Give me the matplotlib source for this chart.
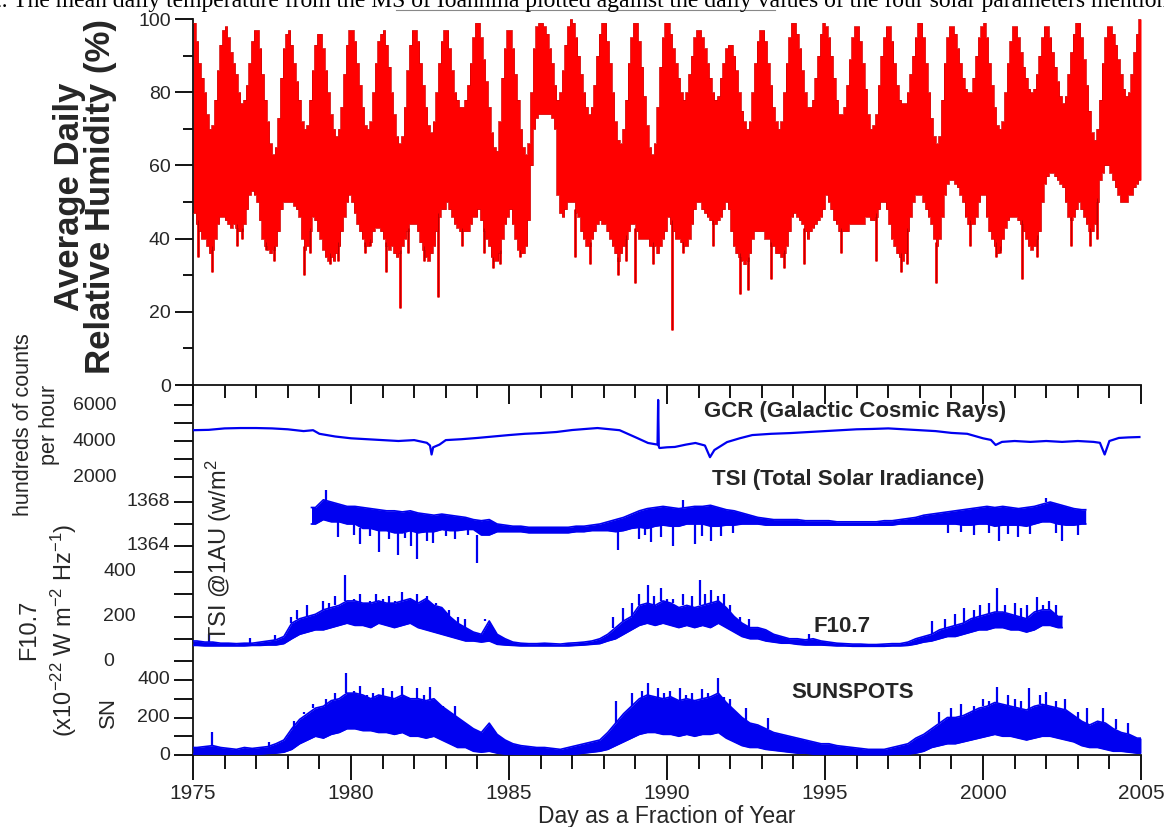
import numpy as np
import matplotlib.pyplot as plt
from matplotlib.ticker import MultipleLocator, FixedLocator, NullFormatter
from matplotlib.transforms import blended_transform_factory

plt.rcParams['font.family'] = ['Liberation Sans', 'DejaVu Sans']
plt.rcParams['mathtext.fontset'] = 'custom'
plt.rcParams['mathtext.rm'] = 'Liberation Sans'
plt.rcParams['mathtext.it'] = 'Liberation Sans:italic'
plt.rcParams['mathtext.bf'] = 'Liberation Sans:bold'

# ---------------------------------------------------------------- data
FIRST_YEAR = 1975

# Monthly upper / lower envelope of the daily relative humidity (%), Jan..Dec
rh_high = [
    [99, 94, 88, 84, 80, 74, 70, 71, 78, 86, 93, 97],   # 1975
    [98, 95, 91, 88, 85, 80, 77, 78, 82, 88, 94, 97],   # 1976
    [97, 92, 85, 78, 72, 66, 63, 65, 73, 84, 92, 96],   # 1977
    [97, 93, 88, 83, 78, 72, 70, 71, 78, 86, 93, 96],   # 1978
    [96, 92, 86, 80, 74, 70, 68, 70, 76, 85, 93, 97],   # 1979
    [97, 94, 88, 82, 76, 71, 70, 72, 80, 88, 94, 96],   # 1980
    [97, 93, 87, 80, 74, 68, 66, 68, 76, 86, 93, 97],   # 1981
    [97, 94, 88, 82, 76, 71, 69, 72, 80, 88, 94, 97],   # 1982
    [97, 92, 86, 80, 78, 76, 76, 78, 82, 88, 95, 99],   # 1983
    [99, 95, 89, 83, 76, 69, 65, 64, 72, 84, 92, 97],   # 1984
    [97, 92, 85, 78, 70, 65, 63, 66, 80, 92, 98, 99],   # 1985
    [99, 98, 96, 92, 88, 82, 78, 80, 86, 93, 98, 100],  # 1986
    [99, 95, 90, 85, 80, 76, 74, 76, 82, 90, 96, 99],   # 1987
    [99, 94, 88, 80, 72, 67, 66, 70, 78, 88, 95, 99],   # 1988
    [99, 94, 87, 79, 71, 65, 63, 66, 76, 87, 95, 99],   # 1989
    [99, 96, 92, 88, 84, 80, 78, 80, 85, 90, 95, 97],   # 1990
    [97, 95, 92, 88, 84, 80, 78, 79, 84, 88, 92, 93],   # 1991
    [93, 90, 86, 80, 75, 72, 70, 72, 80, 88, 94, 97],   # 1992
    [97, 94, 88, 82, 76, 72, 70, 72, 80, 88, 95, 99],   # 1993
    [99, 96, 92, 86, 80, 76, 76, 78, 84, 90, 96, 99],   # 1994
    [98, 95, 90, 84, 78, 74, 74, 76, 82, 89, 95, 98],   # 1995
    [98, 94, 88, 81, 74, 70, 71, 74, 82, 90, 95, 98],   # 1996
    [98, 94, 88, 82, 78, 77, 77, 80, 85, 90, 95, 99],   # 1997
    [99, 95, 88, 80, 73, 68, 66, 68, 78, 88, 95, 98],   # 1998
    [98, 96, 92, 88, 84, 81, 80, 80, 84, 90, 95, 98],   # 1999
    [99, 95, 88, 82, 76, 71, 70, 72, 80, 88, 94, 98],   # 2000
    [98, 95, 91, 87, 84, 81, 80, 81, 85, 90, 95, 98],   # 2001
    [98, 95, 91, 87, 83, 79, 77, 79, 85, 91, 96, 99],   # 2002
    [99, 95, 89, 82, 75, 69, 67, 70, 78, 88, 95, 98],   # 2003
    [98, 96, 93, 89, 85, 81, 79, 80, 85, 91, 96, 100],  # 2004
]
rh_low = [
    [47, 44, 42, 40, 40, 38, 36, 37, 40, 44, 46, 46],   # 1975
    [45, 44, 43, 44, 43, 42, 42, 44, 48, 52, 53, 52],   # 1976
    [50, 45, 40, 38, 37, 36, 37, 38, 42, 48, 50, 50],   # 1977
    [50, 50, 49, 48, 46, 40, 37, 38, 42, 46, 45, 42],   # 1978
    [40, 37, 35, 34, 35, 34, 36, 38, 42, 46, 50, 52],   # 1979
    [50, 47, 44, 42, 40, 38, 38, 39, 42, 43, 43, 42],   # 1980
    [40, 38, 37, 38, 36, 35, 36, 38, 40, 42, 44, 44],   # 1981
    [44, 42, 39, 37, 35, 34, 36, 38, 42, 46, 48, 48],   # 1982
    [50, 48, 46, 44, 43, 42, 42, 42, 42, 44, 46, 46],   # 1983
    [48, 45, 42, 40, 38, 35, 34, 34, 36, 40, 44, 46],   # 1984
    [48, 44, 40, 37, 36, 36, 38, 45, 60, 70, 73, 74],   # 1985
    [74, 74, 74, 74, 73, 70, 52, 47, 46, 48, 50, 50],   # 1986
    [50, 47, 46, 42, 40, 38, 38, 40, 42, 44, 45, 44],   # 1987
    [44, 42, 40, 38, 36, 34, 36, 38, 40, 42, 44, 44],   # 1988
    [42, 40, 40, 40, 40, 38, 38, 38, 36, 38, 40, 42],   # 1989
    [46, 44, 42, 40, 40, 39, 38, 38, 40, 44, 48, 50],   # 1990
    [50, 48, 47, 46, 45, 44, 44, 45, 46, 48, 50, 48],   # 1991
    [42, 38, 36, 35, 34, 33, 34, 36, 40, 42, 42, 42],   # 1992
    [42, 40, 40, 38, 38, 36, 36, 35, 36, 38, 42, 46],   # 1993
    [47, 46, 45, 44, 42, 40, 42, 43, 44, 45, 46, 48],   # 1994
    [52, 50, 48, 45, 44, 42, 42, 42, 42, 44, 44, 44],   # 1995
    [44, 44, 44, 46, 46, 45, 45, 46, 48, 50, 50, 48],   # 1996
    [44, 40, 38, 36, 35, 34, 36, 42, 46, 50, 52, 52],   # 1997
    [52, 50, 48, 46, 44, 40, 38, 40, 46, 52, 55, 56],   # 1998
    [56, 55, 54, 52, 50, 46, 44, 44, 44, 46, 50, 52],   # 1999
    [52, 46, 42, 40, 38, 36, 37, 40, 43, 45, 46, 46],   # 2000
    [46, 45, 44, 42, 40, 38, 37, 38, 40, 42, 50, 55],   # 2001
    [57, 58, 58, 57, 56, 55, 54, 50, 46, 45, 46, 48],   # 2002
    [50, 48, 46, 44, 42, 42, 44, 50, 56, 58, 60, 60],   # 2003
    [58, 56, 54, 52, 50, 50, 50, 52, 52, 54, 55, 56],   # 2004
]
# isolated very dry days
rh_dip_t = [1975.15, 1975.6, 1976.4, 1976.55, 1977.3, 1977.55, 1978.5, 1978.7,
            1979.35, 1979.6, 1980.45, 1980.6, 1981.1, 1981.55, 1981.8, 1982.3,
            1982.75, 1983.5, 1984.2, 1984.5, 1984.7, 1985.35, 1987.1, 1987.55,
            1988.45, 1988.7, 1989.0, 1989.55, 1990.15, 1990.5, 1991.45, 1992.3,
            1992.55, 1993.3, 1993.7, 1994.35, 1995.5, 1996.6, 1997.4, 1997.6,
            1998.5, 1999.6, 2000.4, 2000.55, 2001.23, 2001.7, 2002.8, 2003.4,
            2003.6]
rh_dip_v = [35, 31, 38, 40, 37, 34, 30, 36,
            33, 34, 36, 38, 31, 21, 36, 34,
            24, 38, 36, 32, 33, 35, 35, 33,
            30, 34, 28, 33, 15, 36, 38, 25,
            26, 29, 32, 33, 36, 34, 31, 33,
            28, 38, 35, 36, 29, 35, 38, 38,
            40]

# Galactic cosmic rays (counts/h / 100)
gcr_t = [1975.0, 1975.5, 1976.0, 1976.5, 1977.0, 1977.5, 1978.0, 1978.5, 1978.8,
         1979.0, 1979.5, 1980.0, 1980.5, 1981.0, 1981.5, 1982.0, 1982.4, 1982.5,
         1982.55, 1982.6, 1982.8, 1983.0, 1983.5, 1984.0, 1984.5, 1985.0, 1985.5,
         1986.0, 1986.5, 1987.0, 1987.5, 1987.8, 1988.5, 1989.05, 1989.4, 1989.7,
         1989.72, 1989.74, 1989.76, 1990.0, 1990.25, 1990.6, 1990.9, 1991.2, 1991.36,
         1991.5, 1991.9, 1992.3, 1992.7, 1993.3, 1993.9, 1994.5, 1995.0, 1995.5,
         1996.0, 1996.5, 1997.0, 1997.5, 1998.0, 1998.5, 1999.0, 1999.5, 2000.0,
         2000.25, 2000.4, 2000.6, 2001.0, 2001.5, 2002.0, 2002.5, 2003.0, 2003.5,
         2003.7, 2003.85, 2004.0, 2004.3, 2004.6, 2004.95]
gcr_v = [4600, 4620, 4700, 4720, 4720, 4700, 4650, 4550, 4600,
         4400, 4250, 4150, 4100, 4050, 4000, 4050, 3900, 3750,
         3250, 3650, 3800, 4050, 4100, 4170, 4250, 4330, 4400,
         4440, 4500, 4610, 4680, 4720, 4600, 4170, 3890, 3800,
         6280, 3700, 3610, 3650, 3670, 3800, 3890, 3750, 3100,
         3500, 3940, 4150, 4330, 4400, 4440, 4500, 4550, 4600,
         4650, 4670, 4700, 4650, 4600, 4550, 4450, 4400, 4150,
         4060, 3780, 3950, 4000, 3950, 4000, 3950, 4000, 3950,
         3900, 3250, 4000, 4170, 4200, 4220]

# Quarterly upper / lower envelope of daily total solar irradiance (W/m^2)
tsi_start = 1978.75
tsi_high = [1367.5,
            1368.2, 1368.0, 1367.8, 1367.6,  1367.6, 1367.5, 1367.4, 1367.3,
            1367.2, 1367.2, 1367.1, 1367.2,  1367.0, 1366.9, 1366.8, 1366.9,
            1366.8, 1366.7, 1366.6, 1366.4,  1366.3, 1366.4, 1366.0, 1365.9,
            1365.8, 1365.8, 1365.7, 1365.7,  1365.7, 1365.7, 1365.7, 1365.7,
            1365.8, 1365.8, 1365.9, 1366.0,  1366.2, 1366.4, 1366.6, 1366.9,
            1367.2, 1367.4, 1367.5, 1367.6,  1367.5, 1367.4, 1367.5, 1367.6,
            1367.6, 1367.7, 1367.5, 1367.3,  1367.2, 1367.0, 1366.8, 1366.6,
            1366.5, 1366.4, 1366.4, 1366.4,  1366.4, 1366.3, 1366.3, 1366.3,
            1366.3, 1366.2, 1366.2, 1366.2,  1366.2, 1366.2, 1366.2, 1366.3,
            1366.3, 1366.4, 1366.5, 1366.6,  1366.8, 1366.9, 1367.0, 1367.1,
            1367.2, 1367.3, 1367.4, 1367.5,  1367.6, 1367.5, 1367.6, 1367.5,
            1367.4, 1367.5, 1367.6, 1367.8,  1368.0, 1367.8, 1367.6, 1367.4,
            1367.3]
tsi_low = [1366.0,
           1366.4, 1366.2, 1366.2, 1366.0,  1366.0, 1365.6, 1365.6, 1365.4,
           1365.4, 1365.2, 1365.2, 1365.4,  1365.2, 1365.3, 1365.3, 1365.5,
           1365.4, 1365.4, 1365.5, 1365.5,  1365.0, 1365.0, 1365.3, 1365.3,
           1365.3, 1365.3, 1365.2, 1365.2,  1365.2, 1365.2, 1365.2, 1365.2,
           1365.3, 1365.3, 1365.4, 1365.4,  1365.4, 1365.3, 1365.4, 1365.6,
           1365.7, 1365.6, 1365.8, 1365.9,  1365.8, 1365.8, 1366.0, 1366.0,
           1366.0, 1365.8, 1365.8, 1365.9,  1365.9, 1366.0, 1366.0, 1366.0,
           1365.9, 1365.9, 1365.9, 1365.9,  1365.9, 1365.9, 1365.9, 1365.9,
           1365.9, 1365.9, 1365.9, 1365.9,  1365.9, 1365.9, 1365.9, 1365.9,
           1365.9, 1366.0, 1366.0, 1366.0,  1366.0, 1366.0, 1366.0, 1366.0,
           1366.0, 1365.9, 1365.9, 1366.0,  1366.0, 1365.8, 1365.9, 1365.9,
           1365.9, 1365.8, 1366.0, 1366.2,  1366.2, 1366.0, 1365.9, 1365.9,
           1366.0]
tsi_spike_t = [1979.2, 1979.6, 1980.1, 1980.3, 1980.6, 1980.9, 1981.2, 1981.5,
               1981.7, 1981.9, 1982.1, 1982.4, 1982.6, 1983.0, 1983.3, 1983.7,
               1984.0, 1988.45, 1989.1, 1989.3, 1989.5, 1989.8, 1990.2, 1990.5,
               1990.9, 1991.1, 1991.4, 1991.7, 1992.1, 1998.9, 1999.3, 1999.7,
               2000.2, 2000.5, 2000.8, 2001.1, 2001.5, 2002.0, 2002.3, 2002.5,
               2003.0]
tsi_spike_v = [1369.1, 1364.8, 1365.0, 1364.2, 1364.9, 1363.5, 1364.6, 1363.2,
               1364.7, 1364.0, 1362.8, 1364.5, 1364.3, 1364.9, 1364.6, 1365.0,
               1362.5, 1363.6, 1364.6, 1365.0, 1364.4, 1364.8, 1364.0, 1368.2,
               1364.2, 1364.9, 1364.5, 1364.9, 1365.2, 1365.2, 1365.3, 1365.0,
               1365.2, 1364.5, 1365.1, 1364.8, 1365.1, 1368.4, 1365.2, 1364.5,
               1365.0]

# Quarterly upper / lower envelope of daily F10.7 radio flux
f107_start = 1975.0
f107_high = [90, 85, 85, 80,     80, 78, 80, 80,     85, 90, 95, 110,
             170, 190, 200, 210, 230, 240, 250, 270, 270, 260, 260, 270,
             260, 260, 270, 280, 260, 280, 250, 240, 200, 170, 150, 130,
             120, 180, 120, 100, 85, 80, 78, 78,     80, 78, 76, 80,
             82, 85, 90, 100,    120, 150, 180, 200, 250, 260, 250, 270,
             260, 240, 250, 240, 250, 260, 270, 240, 200, 170, 150, 150,
             140, 120, 110, 100, 100, 95, 100, 90,   85, 80, 78, 76,
             76, 74, 74, 76,     78, 78, 85, 100,    110, 120, 140, 150,
             160, 170, 190, 200, 210, 220, 220, 210, 200, 190, 220, 230,
             230, 200]
f107_low = [70, 68, 68, 68,      68, 68, 68, 70,     70, 72, 72, 78,
            100, 120, 130, 140,  140, 150, 160, 170, 160, 160, 150, 170,
            160, 150, 160, 170,  150, 140, 130, 120, 110, 100, 90, 90,
            85, 90, 75, 72,      70, 68, 68, 68,     68, 68, 68, 68,
            70, 72, 75, 78,      90, 100, 120, 140,  160, 170, 160, 170,
            160, 150, 160, 150,  160, 150, 170, 150, 130, 110, 100, 100,
            90, 85, 80, 80,      75, 72, 72, 72,     70, 68, 68, 66,
            66, 66, 66, 66,      68, 68, 70, 76,     85, 90, 100, 110,
            110, 120, 130, 140,  140, 150, 150, 140, 140, 130, 140, 160,
            160, 150]
f107_spike_t = [1975.5, 1976.8, 1977.6, 1978.1, 1978.3, 1978.6, 1979.1, 1979.3,
                1979.5, 1979.8, 1980.1, 1980.3, 1980.6, 1980.8, 1981.0, 1981.2,
                1981.4, 1981.6, 1981.9, 1982.1, 1982.4, 1982.7, 1983.1, 1983.4,
                1983.6, 1984.25, 1988.3, 1988.6, 1988.9, 1989.1, 1989.4, 1989.6,
                1989.8, 1990.0, 1990.2, 1990.5, 1990.8, 1991.05, 1991.2, 1991.4,
                1991.6, 1991.8, 1992.0, 1992.3, 1992.6, 1994.5, 1998.4, 1998.8,
                1999.1, 1999.4, 1999.7, 1999.9, 2000.2, 2000.45, 2000.7, 2001.0,
                2001.2, 2001.4, 2001.7, 2001.9, 2002.1, 2002.3]
f107_spike_v = [120, 105, 115, 200, 230, 250, 270, 260,
                290, 386, 280, 300, 270, 300, 280, 290,
                270, 310, 280, 300, 290, 260, 230, 200,
                190, 190, 200, 240, 260, 300, 340, 290,
                330, 280, 280, 300, 290, 364, 300, 320,
                290, 300, 250, 200, 190, 120, 180, 190,
                210, 240, 230, 250, 260, 328, 250, 260,
                240, 250, 288, 250, 270, 250]

# Quarterly upper / lower envelope of daily sunspot number
sn_start = 1975.0
sn_high = [40, 45, 50, 40,       35, 30, 40, 35,       40, 45, 60, 80,
           140, 190, 220, 250,   260, 290, 300, 330,   330, 320, 300, 320,
           310, 300, 320, 300,   300, 290, 300, 260,   230, 200, 170, 140,
           120, 170, 110, 80,    60, 50, 45, 40,       40, 35, 30, 40,
           50, 60, 70, 80,       120, 170, 220, 260,   300, 320, 310, 300,
           310, 290, 300, 290,   300, 310, 330, 280,   240, 200, 170, 160,
           140, 120, 110, 100,   90, 80, 70, 60,       60, 50, 45, 40,
           35, 30, 30, 30,       40, 50, 60, 90,       110, 140, 170, 200,
           200, 210, 230, 250,   260, 280, 270, 260,   250, 240, 260, 270,
           260, 250, 240, 210,   180, 160, 180, 170,   140, 120, 110, 90]
sn_low = [5, 5, 5, 5,            3, 3, 5, 5,           5, 8, 10, 15,
          30, 60, 80, 100,       90, 110, 120, 140,    140, 130, 130, 120,
          120, 110, 120, 100,    100, 90, 100, 80,     60, 40, 40, 20,
          15, 20, 10, 5,         5, 3, 3, 3,           2, 2, 2, 3,
          5, 10, 15, 20,         30, 50, 70, 90,       110, 120, 120, 110,
          110, 100, 110, 100,    110, 110, 120, 90,    70, 50, 40, 40,
          30, 25, 20, 15,        10, 10, 5, 5,         5, 3, 3, 3,
          0, 0, 0, 0,            2, 3, 5, 10,          20, 40, 50, 60,
          60, 70, 80, 90,        100, 110, 100, 100,   90, 80, 90, 100,
          100, 90, 80, 70,       50, 40, 40, 30,       20, 20, 15, 10]
sn_spike_t = [1975.6, 1977.4, 1978.2, 1978.5, 1978.8, 1979.2, 1979.5, 1979.85,
              1980.1, 1980.3, 1980.5, 1980.7, 1981.0, 1981.3, 1981.6, 1981.8,
              1982.1, 1982.3, 1982.5, 1982.9, 1983.3, 1984.3, 1988.4, 1988.9,
              1989.2, 1989.4, 1989.7, 1989.9, 1990.1, 1990.4, 1990.6, 1990.8,
              1991.1, 1991.3, 1991.6, 1991.8, 1992.0, 1992.5, 1993.2, 1998.6,
              1999.0, 1999.3, 1999.7, 2000.0, 2000.2, 2000.43, 2000.8, 2001.0,
              2001.2, 2001.45, 2001.8, 2002.0, 2002.3, 2002.6, 2003.0, 2003.3,
              2003.8, 2004.2, 2004.6]
sn_spike_v = [123, 70, 180, 230, 270, 300, 330, 437,
              340, 370, 320, 330, 360, 340, 370, 310,
              360, 320, 363, 260, 260, 171, 290, 330,
              340, 384, 360, 330, 340, 360, 320, 330,
              350, 330, 411, 310, 300, 250, 200, 230,
              250, 270, 260, 300, 290, 363, 320, 300,
              290, 357, 320, 336, 290, 300, 230, 250,
              250, 190, 170]

# Left-axis tick values of the stacked lower panel
gcr_ticks = [2000, 4000, 6000]
gcr_minor = [3000, 5000]
tsi_ticks = [1364, 1368]
tsi_minor = [1366]
f107_ticks = [0, 200, 400]
f107_minor = [100, 300]
sn_ticks = [0, 200, 400]
sn_minor = [100, 300]

# ---------------------------------------------------------------- stacking
# each series is placed on a common vertical scale: pos = offset + scale * value
STACK = {
    'gcr': (242.0, 0.018),
    'tsi': (209.0 - 11.0 * 1364.0, 11.0),
    'f107': (94.0, 0.2225),
    'sn': (0.0, 0.1875),
}


def place(name, v):
    off, sc = STACK[name]
    return off + sc * np.asarray(v, dtype=float)


RED = '#ff0000'
BLUE = '#0000f0'
TXT = '#262626'


def fx(px):
    return px / 1164


def fy(py):
    return 1 - py / 827


fig = plt.figure(figsize=(11.64, 8.27), dpi=100)
L, W = 193 / 1164, (1141 - 193) / 1164
ax_rh = fig.add_axes([L, fy(385), W, (385 - 19) / 827])
ax_sol = fig.add_axes([L, fy(755), W, (755 - 385) / 827], sharex=ax_rh)

# ---------------------------------------------------------------- humidity
hi = np.array(rh_high, dtype=float).ravel()
lo = np.array(rh_low, dtype=float).ravel()
n = hi.size
edges = FIRST_YEAR + np.arange(n + 1) / 12.0
ax_rh.fill_between(edges, np.append(lo, lo[-1]), np.append(hi, hi[-1]),
                   step='post', color=RED, lw=0, zorder=2)
ax_rh.step(edges, np.append(hi, hi[-1]), where='post', color='#d00000', lw=0.5, zorder=3)
ax_rh.step(edges, np.append(lo, lo[-1]), where='post', color='#d00000', lw=0.5, zorder=3)
idx = ((np.array(rh_dip_t) - FIRST_YEAR) * 12).astype(int)
ax_rh.vlines(rh_dip_t, rh_dip_v, lo[idx] + 1, color=RED, lw=2.0, zorder=2)
ax_rh.vlines(rh_dip_t, rh_dip_v, lo[idx] + 1, color='#b00000', lw=0.6, zorder=3)

ax_rh.set_xlim(1975, 2005)
ax_rh.set_ylim(0, 100)
for s in ('top', 'right'):
    ax_rh.spines[s].set_visible(False)
for s in ('left', 'bottom'):
    ax_rh.spines[s].set_linewidth(1.3)
    ax_rh.spines[s].set_color('#111111')
ax_rh.yaxis.set_major_locator(MultipleLocator(20))
ax_rh.yaxis.set_minor_locator(MultipleLocator(10))
ax_rh.xaxis.set_major_locator(MultipleLocator(5))
ax_rh.xaxis.set_minor_locator(MultipleLocator(1))
ax_rh.tick_params(axis='y', which='major', direction='out', length=13, width=1.3,
                  labelsize=14, labelcolor=TXT, pad=3)
ax_rh.tick_params(axis='y', which='minor', direction='out', length=7, width=1.3)
ax_rh.tick_params(axis='x', which='major', direction='out', length=14, width=1.3,
                  labelbottom=False)
ax_rh.tick_params(axis='x', which='minor', direction='out', length=9, width=1.3)
ax_rh.patch.set_alpha(0)

# ---------------------------------------------------------------- solar panel
ax_sol.plot(gcr_t, place('gcr', gcr_v), color=BLUE, lw=1.6, zorder=3)


def band(ax, name, start, high, low, spike_t, spike_v):
    high = np.asarray(high, dtype=float)
    low = np.asarray(low, dtype=float)
    t = start + (np.arange(high.size) + 0.5) / 4.0
    t = np.concatenate([[start], t, [start + high.size / 4.0]])
    h = np.concatenate([[high[0]], high, [high[-1]]])
    l = np.concatenate([[low[0]], low, [low[-1]]])
    ax.fill_between(t, place(name, l), place(name, h), color=BLUE, lw=0, zorder=3)
    ax.plot(t, place(name, h), color=BLUE, lw=1.2, zorder=3)
    ax.plot(t, place(name, l), color=BLUE, lw=1.2, zorder=3)
    k = ((np.asarray(spike_t) - start) * 4).astype(int)
    k = np.clip(k, 0, high.size - 1)
    base = np.where(np.asarray(spike_v) > high[k], high[k], low[k])
    ax.vlines(spike_t, place(name, base), place(name, spike_v), color=BLUE, lw=1.6, zorder=3)


band(ax_sol, 'tsi', tsi_start, tsi_high, tsi_low, tsi_spike_t, tsi_spike_v)
band(ax_sol, 'f107', f107_start, f107_high, f107_low, f107_spike_t, f107_spike_v)
band(ax_sol, 'sn', sn_start, sn_high, sn_low, sn_spike_t, sn_spike_v)

ax_sol.set_ylim(0, 370)
for s in ('top', 'right'):
    ax_sol.spines[s].set_visible(False)
for s in ('left', 'bottom'):
    ax_sol.spines[s].set_linewidth(1.3)
    ax_sol.spines[s].set_color('#111111')

# all ticks of the stacked scales sit on the one left spine
tick_pos = np.concatenate([place('gcr', gcr_ticks + gcr_minor),
                           place('tsi', tsi_ticks + tsi_minor),
                           place('f107', f107_ticks + f107_minor),
                           place('sn', sn_ticks + sn_minor)])
ax_sol.yaxis.set_major_locator(FixedLocator(tick_pos))
ax_sol.yaxis.set_major_formatter(NullFormatter())
ax_sol.tick_params(axis='y', which='major', direction='out', length=14, width=1.3)
ax_sol.tick_params(axis='x', which='major', direction='out', length=18, width=1.3,
                   labelsize=15, labelcolor=TXT, pad=3)
ax_sol.tick_params(axis='x', which='minor', direction='out', length=10, width=1.3)
ax_sol.set_xlim(1975, 2005)
ax_sol.set_xlabel('Day as a Fraction of Year', fontsize=16.5, color=TXT, labelpad=1)
ax_sol.patch.set_alpha(0)

# tick labels of each stacked scale, each in its own column
lab = blended_transform_factory(fig.transFigure, ax_sol.transData)
tkw = dict(fontsize=14, color=TXT, va='center', transform=lab)
for v in gcr_ticks:
    ax_sol.text(fx(116), place('gcr', v), f'{v}', ha='right', **tkw)
for v in tsi_ticks:
    ax_sol.text(fx(170), place('tsi', v), f'{v}', ha='right', **tkw)
for v in f107_ticks:
    ax_sol.text(fx(103), place('f107', v), f'{v}', ha='left', **tkw)
for v in sn_ticks:
    ax_sol.text(fx(170), place('sn', v), f'{v}', ha='right', **tkw)

# series names inside the lower panel
kw = dict(fontsize=16, fontweight='bold', color=TXT, ha='center', va='center')
ax_sol.text(1995.95, 344, 'GCR (Galactic Cosmic Rays)', **kw)
ax_sol.text(1995.73, 275, 'TSI (Total Solar Iradiance)', **kw)
ax_sol.text(1995.54, 129, 'F10.7', **kw)
ax_sol.text(1995.89, 62, 'SUNSPOTS', **kw)

# ---------------------------------------------------------------- axis titles
fig.text(fx(85), fy(197), 'Average Daily\nRelative Humidity (%)', rotation=90,
         ha='center', va='center', multialignment='center', fontsize=25,
         fontweight='bold', color=TXT, linespacing=0.96)
rkw = dict(rotation=90, ha='center', va='center', color=TXT)
fig.text(fx(24), fy(425), 'hundreds of counts', fontsize=15.5, **rkw)
fig.text(fx(50), fy(425), 'per hour', fontsize=15.5, **rkw)
fig.text(fx(29), fy(630), 'F10.7', fontsize=17, **rkw)
fig.text(fx(64), fy(630), '(x10$^{-22}$ W m$^{-2}$ Hz$^{-1}$)', fontsize=17, **rkw)
fig.text(fx(108), fy(712), 'SN', fontsize=16, **rkw)
fig.text(fx(219), fy(550), 'TSI @1AU (w/m$^2$', fontsize=17, **rkw)

# running caption line above the figure
fig.text(fx(-10), fy(7), '2. The mean daily temperature from the MS of Ioannina plotted '
         'against the daily values of the four solar parameters mentioned above.',
         family='Liberation Serif', fontsize=17, color='black', va='baseline', ha='left')
fig.add_artist(plt.Line2D([fx(396), fx(775)], [fy(10), fy(10)], color='#888888', lw=0.8))

fig.savefig('out.png', dpi=100)
